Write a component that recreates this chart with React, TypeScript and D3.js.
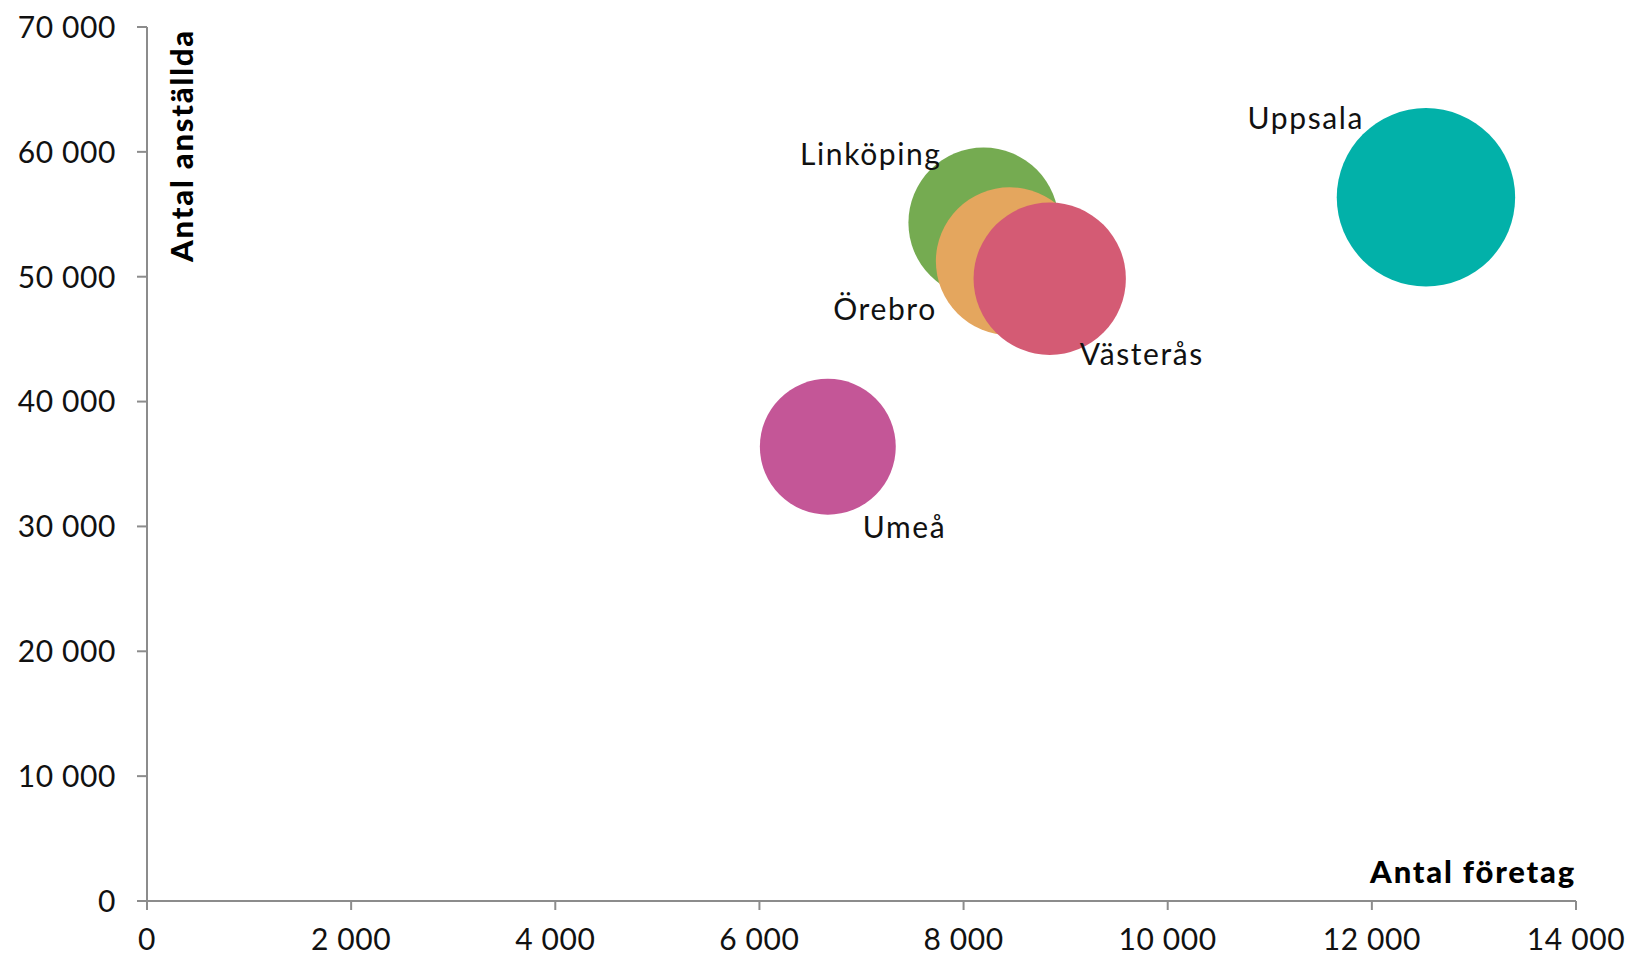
import React from "react";
import * as d3 from "d3";

const cities = ["Uppsala", "Linköping", "Örebro", "Västerås", "Umeå"];
const antalForetag = [12530, 8196, 8453, 8844, 6670];
const antalAnstallda = [56360, 54325, 51240, 49840, 36385];
const storlek = [230000, 163300, 158000, 167700, 133500];
const colors = ["#02B1A9", "#75AB51", "#E4A65E", "#D45B74", "#C45697"];

const xTicks = [0, 2000, 4000, 6000, 8000, 10000, 12000, 14000];
const yTicks = [0, 10000, 20000, 30000, 40000, 50000, 60000, 70000];

// label placement relative to bubble centre (style only)
const labelPlacement: { dx: number; dy: number; anchor: string }[] = [
  { dx: -62, dy: -68, anchor: "end" },
  { dx: -42, dy: -58, anchor: "end" },
  { dx: -73, dy: 59, anchor: "end" },
  { dx: 30, dy: 86, anchor: "start" },
  { dx: 35, dy: 91, anchor: "start" },
];

const W = 1632;
const H = 955;
const FONT = "Lato, 'Noto Sans', sans-serif";

const fmt = (v: number) => d3.format(",")(v).replace(/,/g, " ");

export default function App() {
  const x = d3.scaleLinear().domain([0, 14000]).range([147, 1576]);
  const y = d3.scaleLinear().domain([0, 70000]).range([901, 27]);
  const r = d3.scaleSqrt().domain([0, 230000]).range([0, 89.2]);
  const axisColor = "#8C8C8C";

  return (
    <svg
      width={W}
      height={H}
      style={{ position: "absolute", left: 0, top: 0, background: "#fff" }}
      fontFamily={FONT}
    >
      {/* bubbles */}
      {cities.map((c, i) => (
        <circle
          key={c}
          cx={x(antalForetag[i])}
          cy={y(antalAnstallda[i])}
          r={r(storlek[i])}
          fill={colors[i]}
        />
      ))}
      {/* axes */}
      <line x1={x(0)} x2={x(0)} y1={y(0)} y2={y(70000)} stroke={axisColor} strokeWidth={2} />
      <line x1={x(0) - 10} x2={x(14000)} y1={y(0)} y2={y(0)} stroke={axisColor} strokeWidth={2} />
      {yTicks.map((t) => (
        <g key={"y" + t}>
          <line x1={x(0) - 10} x2={x(0)} y1={y(t)} y2={y(t)} stroke={axisColor} strokeWidth={2} />
          <text x={116} y={y(t)} dy="0.36em" textAnchor="end" fontSize={30} letterSpacing={0.6} fill="#111">
            {fmt(t)}
          </text>
        </g>
      ))}
      {xTicks.map((t) => (
        <g key={"x" + t}>
          <line x1={x(t)} x2={x(t)} y1={y(0)} y2={y(0) + 9} stroke={axisColor} strokeWidth={2} />
          <text x={x(t)} y={950} textAnchor="middle" fontSize={30} letterSpacing={0.6} fill="#111">
            {fmt(t)}
          </text>
        </g>
      ))}
      {/* axis titles */}
      <text
        transform={`translate(193, ${y(70000) + 2}) rotate(-90)`}
        textAnchor="end"
        fontSize={31}
        fontWeight={900}
        letterSpacing={1.8}
        fill="#000"
      >
        Antal anställda
      </text>
      <text x={1576} y={883} textAnchor="end" fontSize={31} fontWeight={900} letterSpacing={1.8} fill="#000">
        Antal företag
      </text>
      {/* labels */}
      {cities.map((c, i) => (
        <text
          key={"l" + c}
          x={x(antalForetag[i]) + labelPlacement[i].dx}
          y={y(antalAnstallda[i]) + labelPlacement[i].dy}
          textAnchor={labelPlacement[i].anchor}
          fontSize={30}
          letterSpacing={1.6}
          fill="#111"
        >
          {c}
        </text>
      ))}
    </svg>
  );
}
